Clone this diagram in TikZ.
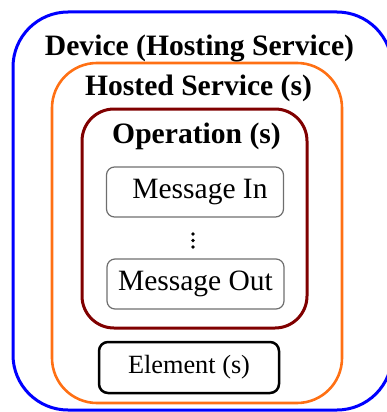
\documentclass[tikz,border=0pt]{standalone}
\usepackage{fontspec}
\setmainfont{Liberation Serif}
\usetikzlibrary{positioning}

\definecolor{azul}{RGB}{0,0,255}
\definecolor{naranja}{RGB}{255,112,20}
\definecolor{granate}{RGB}{128,0,0}
\definecolor{gris}{RGB}{110,110,110}

\tikzset{
    caja/.style={draw,rounded corners=#1,inner sep=0pt,outer sep=0pt},
    titulo/.style={anchor=base,font=\fontsize{29.6}{30}\selectfont\bfseries},
    mensaje/.style={caja=8pt,draw=gris,line width=1.2pt,minimum width=177pt,minimum height=50pt,
        font=\fontsize{29.5}{30}\selectfont},
}

\begin{document}
\begin{tikzpicture}[x=1pt,y=-1pt]

    \useasboundingbox (0,0) rectangle (386,412);

    %Cajas
    \node[caja=55pt,draw=azul,line width=3pt,minimum width=379pt,minimum height=398pt] (device) at (202.5,211) {};
    \node[caja=45pt,draw=naranja,line width=2.6pt,minimum width=290pt,minimum height=340pt] (hosted) at (197,233) {};
    \node[caja=32pt,draw=granate,line width=3pt,minimum width=225pt,minimum height=219pt] (operation) at (194.5,218.5) {};

    %Titulos
    \node[titulo] (tdevice) at (199.5,56) {Device (Hosting Service)};
    \node[titulo] (thosted) at (198.5,95) {Hosted Service (s)};
    \node[titulo] (toperation) at (196.5,143) {Operation (s)};

    %Mensajes
    \node[mensaje] (msgin) at (195,192) {\hspace{10pt}Message In};
    \node[mensaje] (msgout) at (195.5,284) {Message Out};
    \foreach \y in {234,240.5,247}{
        \fill (193,\y) circle(1.9pt);
    }

    %Elemento
    \node[caja=9pt,draw=black,line width=2.5pt,minimum width=180pt,minimum height=51pt,
        font=\fontsize{26.3}{27}\selectfont] (element) at (189,367.5) {Element (s)};

\end{tikzpicture}
\end{document}
